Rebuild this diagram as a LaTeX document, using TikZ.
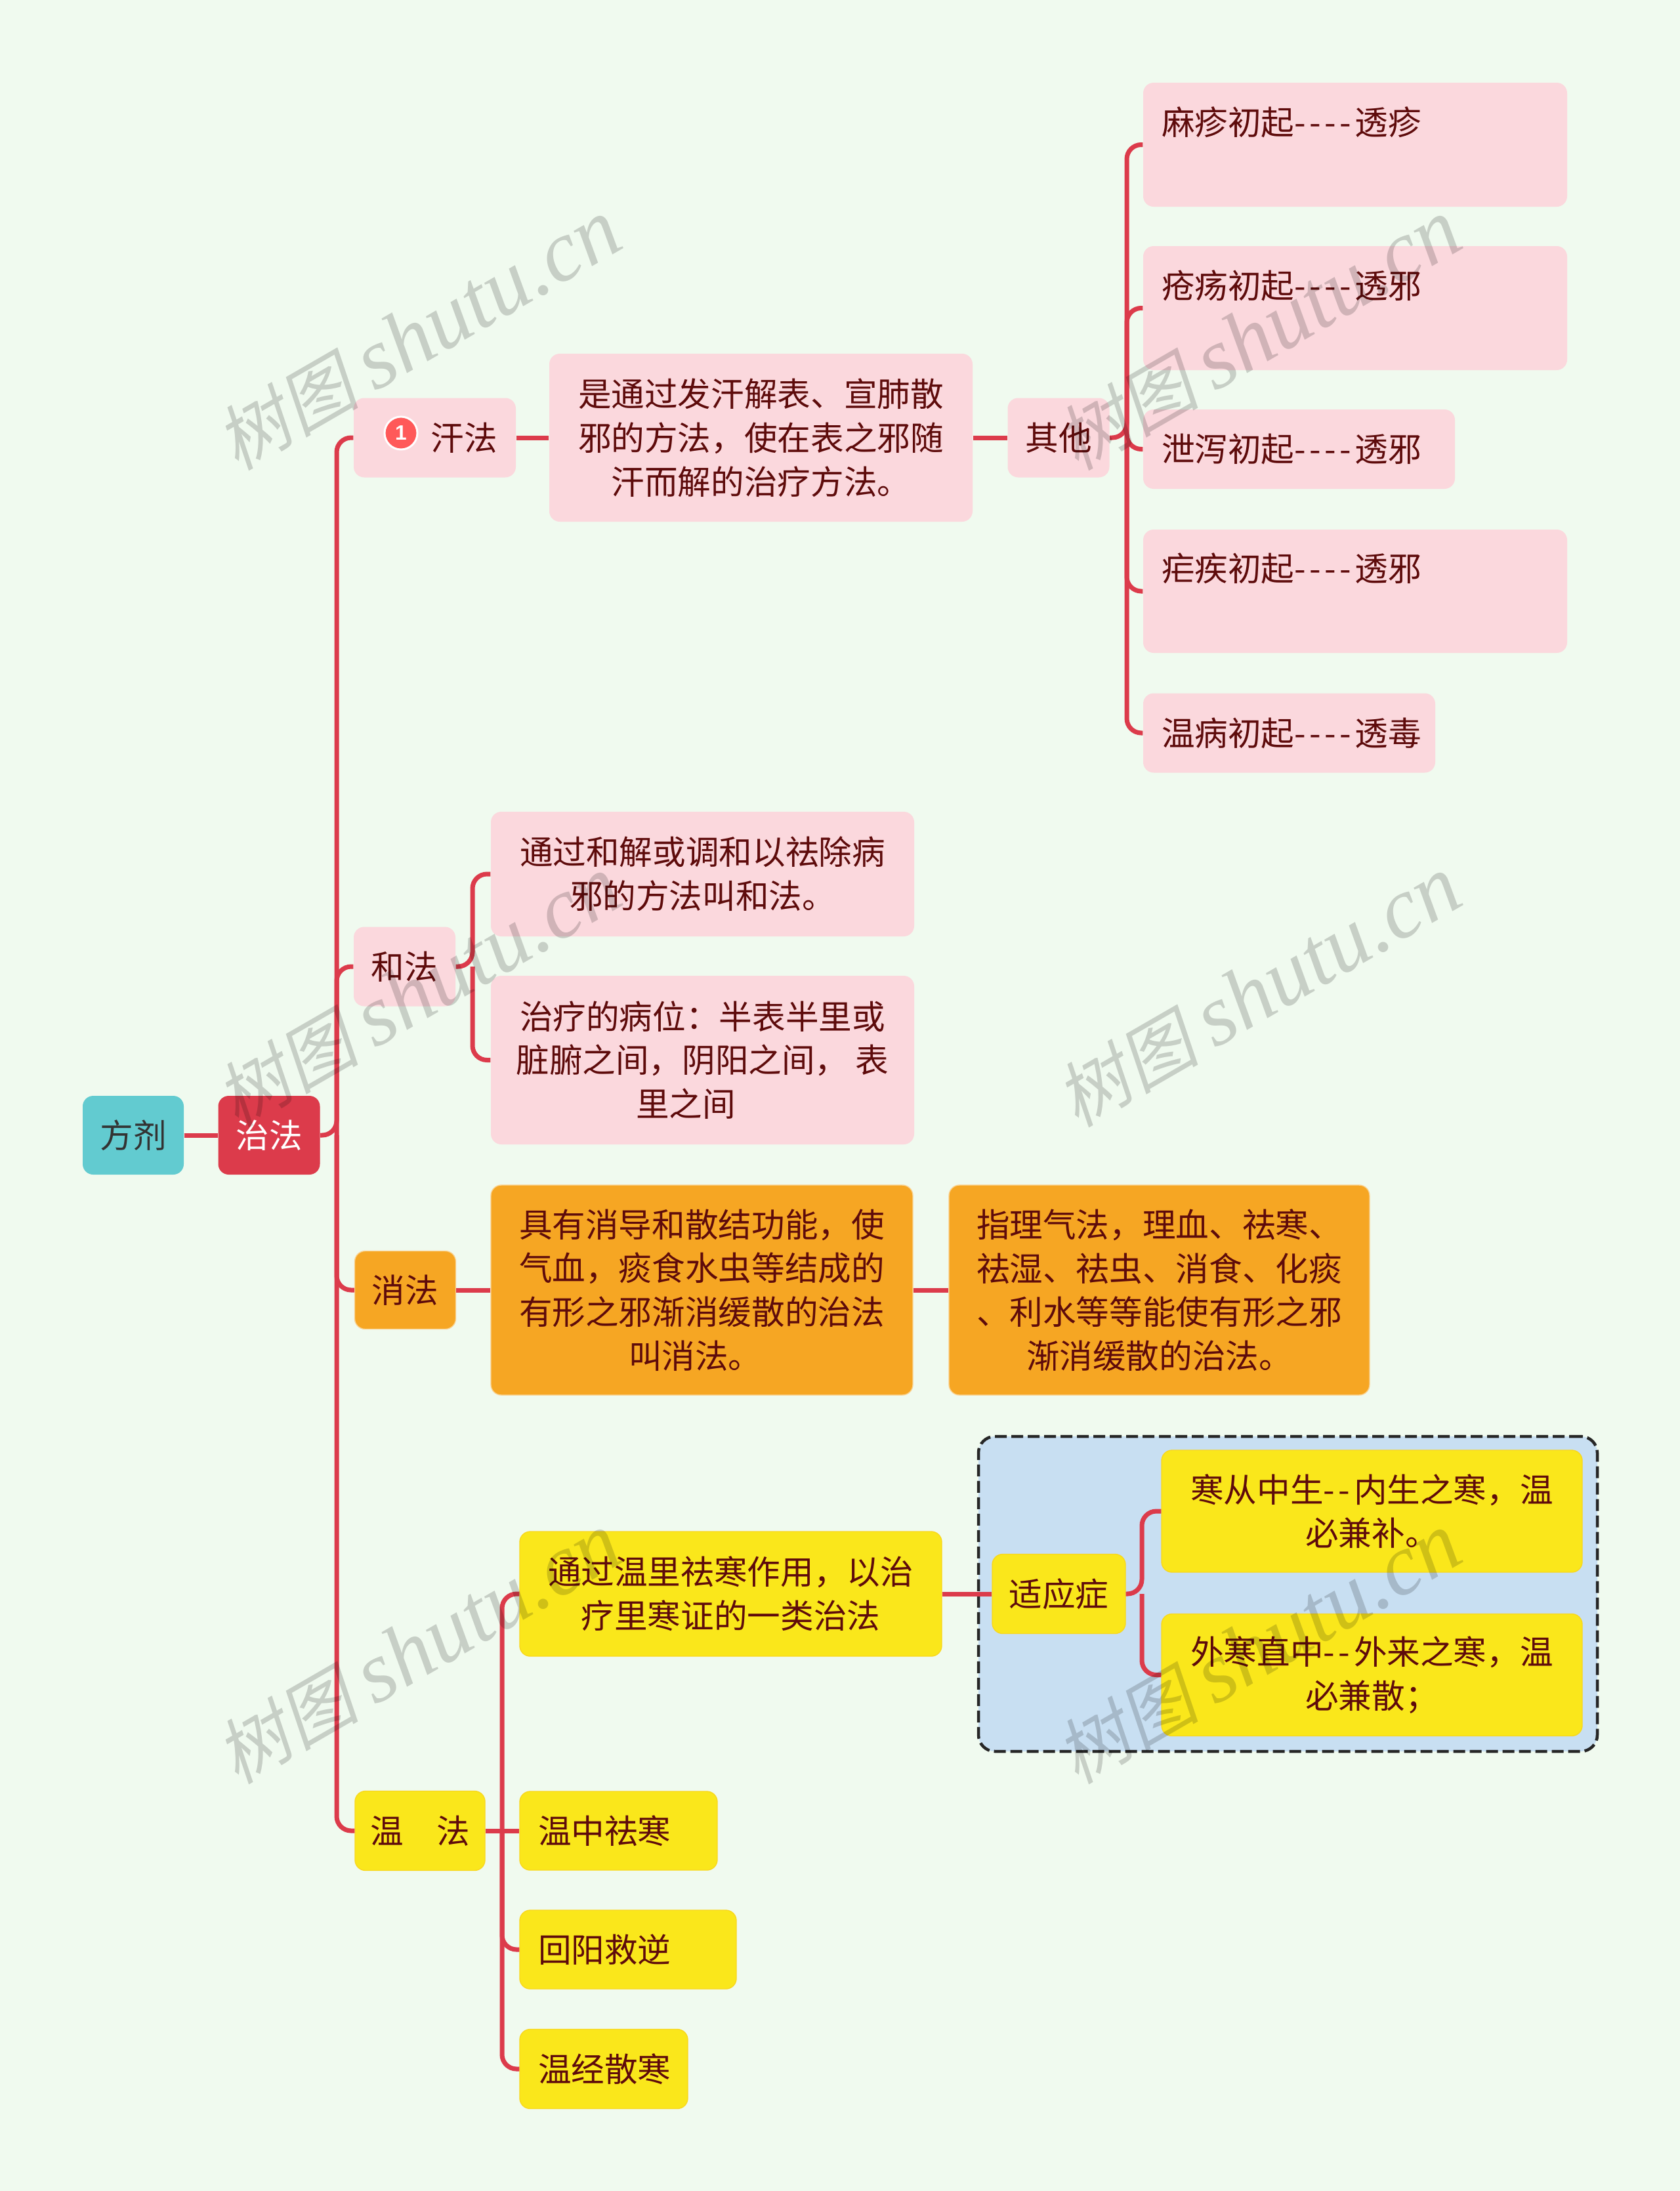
\documentclass[tikz,border=0pt]{standalone}
\usepackage{fontspec}
\setmainfont{Noto Sans CJK SC}
\newfontfamily\markcjk[FakeSlant=0.2]{Noto Sans CJK SC}
\newfontfamily\marklatin{Liberation Serif}
\newfontfamily\badgefont{Liberation Sans}
\newcommand{\hy}{-\kern0.11em\relax}
\definecolor{pagebg}{HTML}{F0FAEF}
\definecolor{linkred}{HTML}{DC3B4B}
\definecolor{inkred}{HTML}{5E0B0B}
\definecolor{pinkfill}{HTML}{FBD8DD}
\definecolor{orangefill}{HTML}{F6A623}
\definecolor{yellowfill}{HTML}{FAE71B}
\definecolor{framefill}{HTML}{C8DFF2}
\definecolor{tealfill}{HTML}{62CBD0}

\begin{document}
\begin{tikzpicture}[
  box/.style={
    rectangle,
    rounded corners=1.6mm,
    inner sep=0pt,
    align=center,
    text=inkred,
    font=\fontsize{14.4pt}{19pt}\selectfont
  },
  pinkbox/.style={box, fill=pinkfill},
  orangebox/.style={box, fill=orangefill, draw=orangefill!50!white, line width=0.4pt},
  yellowbox/.style={box, fill=yellowfill, draw=orangefill!25!yellowfill, line width=0.4pt},
  flush/.style={align=left, inner xsep=2.8mm},
  link/.style={draw=linkred, line width=0.7mm, rounded corners=2.2mm},
  wmark/.style={rotate=30, text=black, text opacity=0.17, inner sep=0pt}
]
  \fill[pagebg] (0,0) rectangle (25.6,-33.39);
  \useasboundingbox (0,0) rectangle (25.6,-33.39);

  \node[rectangle, rounded corners=2.5mm, draw=black!85, dash pattern=on 1.8mm off 0.7mm, line width=0.45mm, fill=framefill,
    minimum width=9.43cm, minimum height=4.8cm] (frame) at (19.625,-24.29) {};

  \node[box, fill=tealfill, minimum width=1.54cm, minimum height=1.2cm, text=black!80] (root) at (2.03,-17.3) {方剂};
  \node[box, fill=linkred, minimum width=1.55cm, minimum height=1.2cm, text=white] (zhifa) at (4.1,-17.3) {治法};

  \node[pinkbox, minimum width=2.47cm, minimum height=1.21cm] (hanfa) at (6.625,-6.67) {\hspace*{0.9cm}汗法};
  \node[circle, fill=red!65!white, draw=white, line width=0.3mm, minimum size=0.5cm, inner sep=0pt, text=white,
    font=\badgefont\bfseries\fontsize{9pt}{9pt}\selectfont] (badge) at (6.11,-6.6) {1};
  \node[pinkbox, minimum width=6.45cm, minimum height=2.56cm] (handesc) at (11.595,-6.67) {是通过发汗解表、宣肺散\\邪的方法，使在表之邪随\\汗而解的治疗方法。};
  \node[pinkbox, minimum width=1.55cm, minimum height=1.21cm] (other) at (16.13,-6.67) {其他};

  \node[pinkbox, flush, text width=5.9cm, minimum height=1.89cm] (mazhen) at (20.65,-2.205) {麻疹初起\hy\hy\hy\hy 透疹\\[2pt]~};
  \node[pinkbox, flush, text width=5.9cm, minimum height=1.89cm] (chuangyang) at (20.65,-4.695) {疮疡初起\hy\hy\hy\hy 透邪\\[2pt]~};
  \node[pinkbox, flush, text width=4.19cm, minimum height=1.21cm] (xiexie) at (19.795,-6.845) {泄泻初起\hy\hy\hy\hy 透邪};
  \node[pinkbox, flush, text width=5.9cm, minimum height=1.88cm] (nueji) at (20.65,-9.01) {疟疾初起\hy\hy\hy\hy 透邪\\[2pt]~};
  \node[pinkbox, flush, text width=3.89cm, minimum height=1.21cm] (wenbing) at (19.645,-11.17) {\mbox{温病初起\hy\hy\hy\hy 透毒}};

  \node[pinkbox, minimum width=1.55cm, minimum height=1.21cm] (hefa) at (6.165,-14.73) {和法};
  \node[pinkbox, minimum width=6.45cm, minimum height=1.9cm] (hedesc) at (10.705,-13.32) {通过和解或调和以祛除病\\邪的方法叫和法。};
  \node[pinkbox, minimum width=6.45cm, minimum height=2.57cm] (hepos) at (10.705,-16.155) {治疗的病位：半表半里或\\脏腑之间，阴阳之间， 表\\里之间\hspace*{1em}};

  \node[orangebox, minimum width=1.54cm, minimum height=1.19cm] (xiaofa) at (6.175,-19.66) {消法};
  \node[orangebox, minimum width=6.43cm, minimum height=3.2cm] (xiaodesc) at (10.695,-19.66) {具有消导和散结功能，使\\气血，痰食水虫等结成的\\有形之邪渐消缓散的治法\\叫消法。\hspace*{0.4em}};
  \node[orangebox, minimum width=6.41cm, minimum height=3.2cm] (xiaomore) at (17.665,-19.66) {指理气法，理血、祛寒、\\祛湿、祛虫、消食、化痰\\、利水等等能使有形之邪\\渐消缓散的治法。};

  \node[yellowbox, minimum width=1.98cm, minimum height=1.21cm] (wenfa) at (6.4,-27.9) {温　法};
  \node[yellowbox, minimum width=6.43cm, minimum height=1.9cm] (wendesc) at (11.135,-24.29) {通过温里祛寒作用，以治\\疗里寒证的一类治法};
  \node[yellowbox, minimum width=2.03cm, minimum height=1.21cm] (shiying) at (16.135,-24.29) {适应症};
  \node[yellowbox, minimum width=6.41cm, minimum height=1.86cm] (hancong) at (20.905,-23.03) {寒从中生\hy\hy 内生之寒，温\\必兼补。};
  \node[yellowbox, minimum width=6.41cm, minimum height=1.86cm] (waihan) at (20.905,-25.525) {外寒直中\hy\hy 外来之寒，温\\必兼散；};
  \node[yellowbox, flush, text width=2.45cm, minimum height=1.2cm] (wenzhong) at (9.425,-27.9) {温中祛寒};
  \node[yellowbox, flush, text width=2.74cm, minimum height=1.2cm] (huiyang) at (9.57,-29.71) {回阳救逆};
  \node[yellowbox, flush, text width=2.0cm, minimum height=1.21cm] (wenjing) at (9.2,-31.53) {\mbox{温经散寒}};

  \coordinate (busmain) at (5.13,-17.3);
  \coordinate (busother) at (17.17,-6.67);
  \coordinate (bushe) at (7.2,-14.73);
  \coordinate (buswen) at (7.65,-27.9);
  \coordinate (busshi) at (17.4,-24.29);

  \draw[link] (root) -- (zhifa);
  \draw[link] (zhifa) -- (busmain) |- (hanfa);
  \draw[link] (busmain) |- (hefa);
  \draw[link] (busmain) |- (xiaofa);
  \draw[link] (busmain) |- (wenfa);
  \draw[link] (hanfa) -- (handesc);
  \draw[link] (handesc) -- (other);
  \draw[link] (other) -- (busother) |- (mazhen);
  \draw[link] (busother) |- (chuangyang);
  \draw[link] (busother) |- (xiexie);
  \draw[link] (busother) |- (nueji);
  \draw[link] (busother) |- (wenbing);
  \draw[link] (hefa) -- (bushe) |- (hedesc);
  \draw[link] (bushe) |- (hepos);
  \draw[link] (xiaofa) -- (xiaodesc);
  \draw[link] (xiaodesc) -- (xiaomore);
  \draw[link] (wenfa) -- (wenzhong);
  \draw[link] (buswen) |- (wendesc);
  \draw[link] (buswen) |- (huiyang);
  \draw[link] (buswen) |- (wenjing);
  \draw[link] (wendesc) -- (shiying);
  \draw[link] (shiying) -- (busshi) |- (hancong);
  \draw[link] (busshi) |- (waihan);

  \foreach \col/\cx in {a/6.38,b/19.18}
    \foreach \row/\cy in {1/-5.11,2/-15.12,3/-25.13}
      \node[wmark] (mark\col\row) at (\cx,\cy) {\markcjk\fontsize{31pt}{31pt}\selectfont 树图 \marklatin\itshape\fontsize{37.5pt}{37.5pt}\selectfont shutu.cn};
\end{tikzpicture}
\end{document}
